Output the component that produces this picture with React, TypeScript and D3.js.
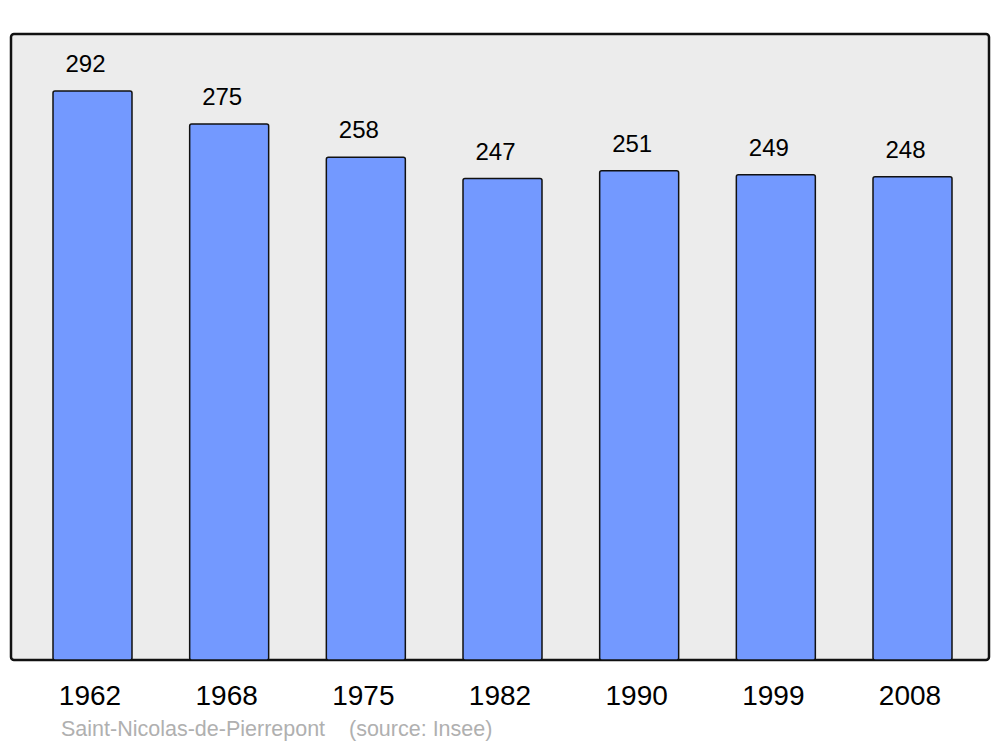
import React from "react";
import * as d3 from "d3";

const years = ["1962", "1968", "1975", "1982", "1990", "1999", "2008"];
const population = [292, 275, 258, 247, 251, 249, 248];
const townName = "Saint-Nicolas-de-Pierrepont";
const sourceText = "(source: Insee)";

export default function App() {
  const W = 1000, H = 747;
  const panel = { x0: 11, x1: 989, y0: 34, y1: 660 };
  const x = d3.scaleBand<string>().domain(years).range([13, 992]).paddingInner(0.422).paddingOuter(0.2927);
  const yMax = d3.max(population)! * 1.1;
  const y = d3.scaleLinear().domain([0, yMax]).range([panel.y1, panel.y0]);
  const font = "'Liberation Sans', Arial, sans-serif";
  return (
    <svg width={W} height={H} style={{ position: "absolute", left: 0, top: 0, background: "#fff" }} fontFamily={font}>
      <rect x={panel.x0} y={panel.y0} width={panel.x1 - panel.x0} height={panel.y1 - panel.y0} rx={3} fill="#ececec" stroke="#111" strokeWidth={2.5} />
      {years.map((yr, i) => {
        const bx = x(yr)!;
        const bw = x.bandwidth();
        const top = y(population[i]);
        return (
          <g key={yr}>
            <rect x={bx} y={top} width={bw} height={panel.y1 - top} rx={2} fill="#7399ff" stroke="#111" strokeWidth={1.5} />
            <text x={bx + bw / 2 - 7} y={top - 19} textAnchor="middle" fontSize={24} fill="#000">{population[i]}</text>
            <text x={bx + bw / 2 - 2.5} y={705} textAnchor="middle" fontSize={28} fill="#000">{yr}</text>
          </g>
        );
      })}
      <text x={61} y={736} fontSize={21.5} fill="#b0b0b0">{townName}</text>
      <text x={349} y={736} fontSize={21.5} fill="#b0b0b0">{sourceText}</text>
    </svg>
  );
}
